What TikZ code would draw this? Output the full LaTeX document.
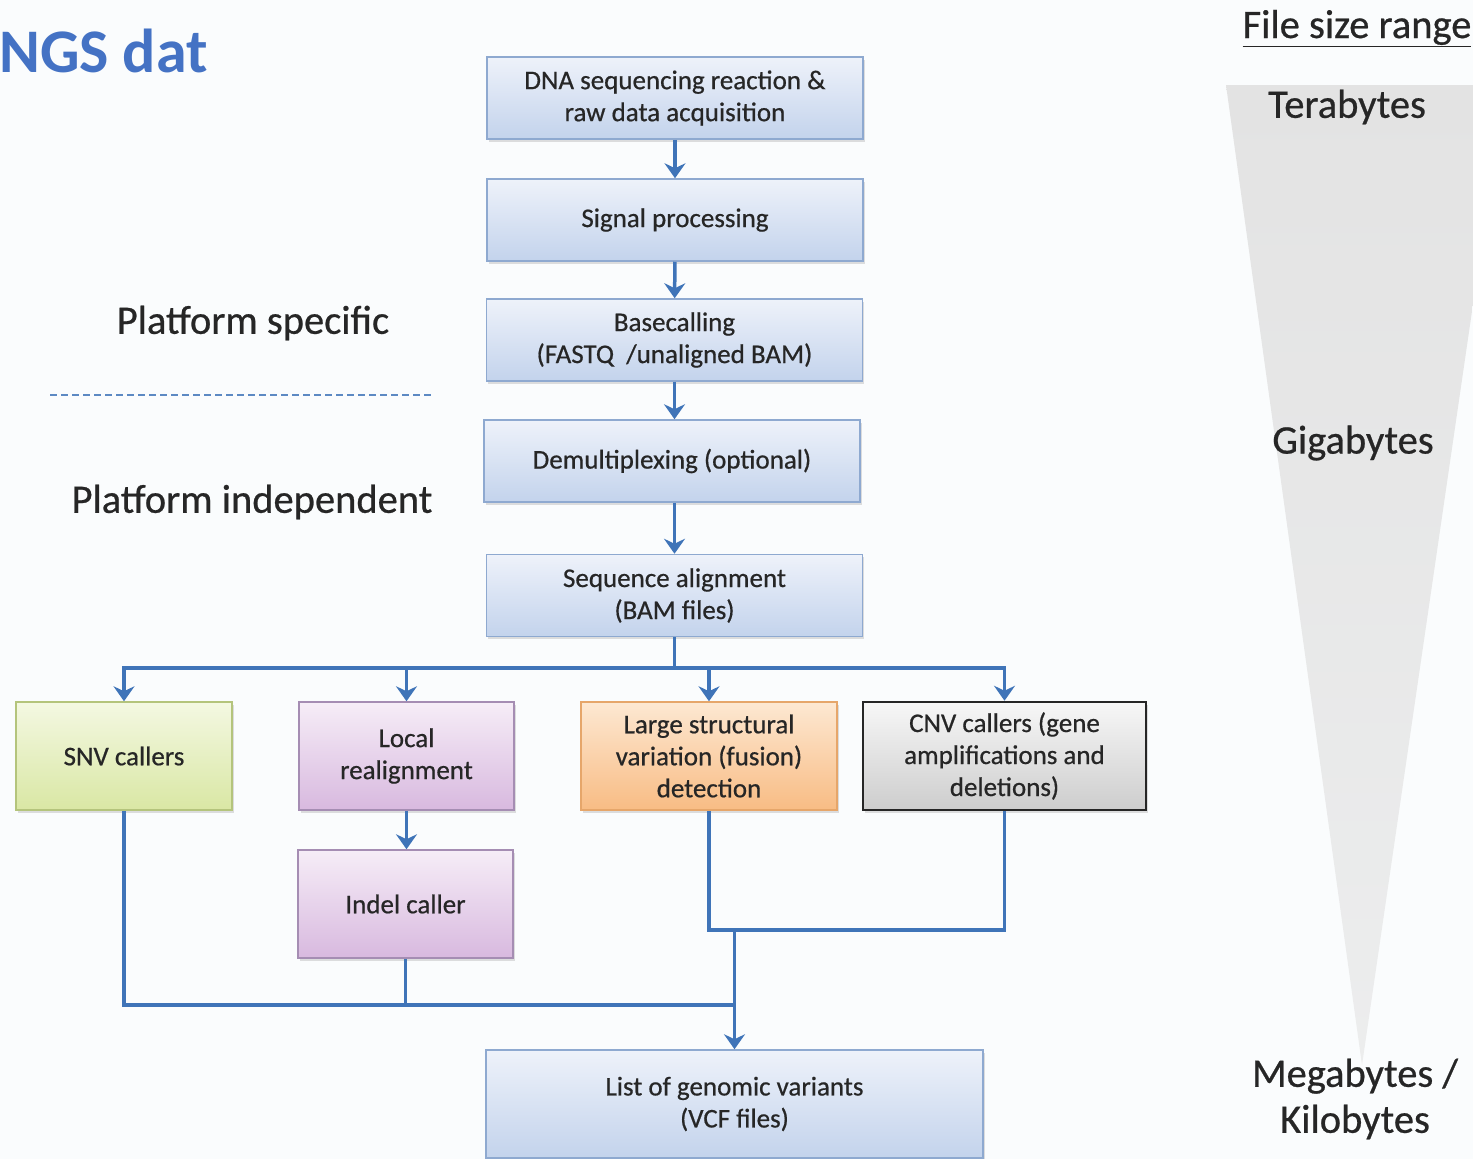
\documentclass[tikz,border=0pt]{standalone}
\usepackage{fontspec}
\setmainfont{Carlito}
\newfontfamily\heavyfont{Carlito}[FakeBold=0.6]
\usetikzlibrary{arrows.meta,shadows,calc}

\definecolor{bgcol}{HTML}{FAFCFD}
\definecolor{linkblue}{HTML}{3F74B8}
\definecolor{titleblue}{HTML}{4472C4}
\definecolor{inkgray}{HTML}{262626}
\definecolor{blueedge}{HTML}{8EA9D0}
\definecolor{bluetop}{HTML}{EEF2FA}
\definecolor{bluebot}{HTML}{C3D3EC}
\definecolor{greenedge}{HTML}{B4C47C}
\definecolor{greentop}{HTML}{F4F8E2}
\definecolor{greenbot}{HTML}{D9E7A4}
\definecolor{violetedge}{HTML}{A58DB3}
\definecolor{violettop}{HTML}{F6EDF7}
\definecolor{violetbot}{HTML}{D8B9DF}
\definecolor{orangeedge}{HTML}{E6A66A}
\definecolor{orangetop}{HTML}{FDE8D2}
\definecolor{orangebot}{HTML}{F8BC84}
\definecolor{graytop}{HTML}{F7F7F7}
\definecolor{graybot}{HTML}{CDCDCD}
\definecolor{funnel}{HTML}{E3E3E3}

\tikzset{
  boxbase/.style={rectangle, align=center, inner sep=0pt, text=inkgray,
    line width=1.5pt,
    font=\heavyfont\fontsize{27}{32}\selectfont,
    drop shadow={shadow xshift=1.5pt, shadow yshift=-2.5pt, opacity=0.25, fill=gray}},
  stepbox/.style={boxbase, draw=blueedge, top color=bluetop, bottom color=bluebot,
    minimum width=376pt, minimum height=82pt},
  greenbox/.style={boxbase, draw=greenedge, top color=greentop, bottom color=greenbot,
    minimum height=108pt},
  violetbox/.style={boxbase, draw=violetedge, top color=violettop, bottom color=violetbot,
    minimum height=108pt},
  orangebox/.style={boxbase, draw=orangeedge, top color=orangetop, bottom color=orangebot,
    minimum height=108pt},
  graybox/.style={boxbase, draw=inkgray, line width=2.5pt, top color=graytop, bottom color=graybot,
    minimum height=108pt},
  conn/.style={draw=linkblue, line width=3.5pt},
  arr/.style={conn, -{Stealth[length=15pt, width=21pt, inset=5pt]}},
  sidelabel/.style={text=inkgray, font=\heavyfont\fontsize{40.5}{46}\selectfont, align=center},
}

\begin{document}
\begin{tikzpicture}[x=1pt, y=-1pt]
  % page frame and background
  \useasboundingbox (0,0) rectangle (1473,1159);
  \fill[bgcol] (0,0) rectangle (1473,1159);

  % file size funnel
  \begin{scope}
    \clip (0,0) rectangle (1473,1159);
    \shade[top color=funnel, bottom color=funnel!60!bgcol]
      (1226,85) -- (1505,85) -- (1362,1065) -- cycle;
  \end{scope}

  % title
  \node[anchor=base west, inner sep=0pt, text=titleblue,
        font=\fontsize{62}{70}\bfseries\selectfont] (title) at (-1,72) {NGS dat};

  % side annotations
  \node[sidelabel] (pspec) at (253,323) {Platform specific};
  \node[sidelabel] (pind) at (252,502) {Platform independent};
  \coordinate (dashL) at (50,395);
  \coordinate (dashR) at (433,395);
  \draw[linkblue!85, line width=2pt, dash pattern=on 7pt off 4pt] (dashL) -- (dashR);

  % file size labels
  \node[sidelabel, anchor=base] (fsize) at (1357,38) {\underline{File size range}};
  \node[sidelabel] (tera) at (1347,107) {Terabytes};
  \node[sidelabel] (giga) at (1353,443) {Gigabytes};
  \node[sidelabel] (mega) at (1355,1099) {Megabytes /\\Kilobytes};

  % main pipeline
  \node[stepbox] (dna) at (675,98) {DNA sequencing reaction \&\\raw data acquisition};
  \node[stepbox] (sig) at (675,220) {Signal processing};
  \node[stepbox] (base) at (674.5,340) {Basecalling\\(FASTQ\ \ /unaligned BAM)};
  \node[stepbox] (demux) at (672,461) {Demultiplexing (optional)};
  \node[stepbox] (align) at (674.5,595.5) {Sequence alignment\\(BAM files)};

  \draw[arr] (dna) -- (sig);
  \draw[arr] (sig) -- (base);
  \draw[arr] (base.south) -- (base.south |- demux.north);
  \draw[arr] (align.north |- demux.south) -- (align.north);

  % variant callers
  \node[greenbox, minimum width=216pt] (snv) at (124,756) {SNV callers};
  \node[violetbox, minimum width=215pt] (realign) at (406.5,756) {Local\\realignment};
  \node[orangebox, minimum width=256pt] (lsv) at (709,756) {Large structural\\variation (fusion)\\detection};
  \node[graybox, minimum width=283pt] (cnv) at (1004.5,756) {CNV callers (gene\\amplifications and\\deletions)};
  \node[violetbox, minimum width=215pt] (indel) at (405.5,904) {Indel caller};

  \coordinate (bus) at (674.5,668);
  \draw[conn] (align) -- (bus);
  \draw[arr] (bus) -| (snv.north);
  \draw[arr] (bus) -| (realign.north);
  \draw[arr] (bus) -| (lsv.north);
  \draw[arr] (bus) -| (cnv.north);
  \draw[arr] (realign.south) -- (realign.south |- indel.north);

  % result
  \node[stepbox, minimum width=497pt, minimum height=108pt] (vcf) at (734.5,1104)
    {List of genomic variants\\(VCF files)};

  \coordinate (joinR) at (734.5,930);
  \coordinate (joinL) at (734.5,1005);
  \draw[conn] (lsv.south) |- (cnv.south |- joinR) -- (cnv.south);
  \draw[conn] (snv.south) |- (joinL);
  \draw[conn] (indel.south) -- (indel.south |- joinL);
  \draw[arr] (joinR) -- (vcf.north);
\end{tikzpicture}
\end{document}
